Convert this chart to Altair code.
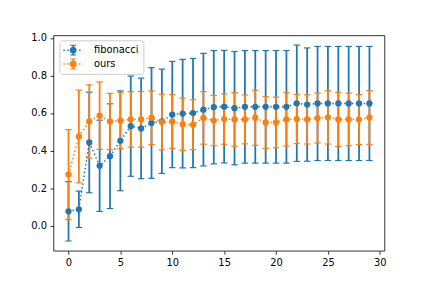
import altair as alt
import pandas as pd

# ---- data ----
x_vals = list(range(30))
series_names = ["fibonacci", "ours"]
series_colors = ["#1f77b4", "#ff7f0e"]

fib_y = [0.076, 0.087, 0.443, 0.319, 0.370, 0.452, 0.530, 0.518, 0.547, 0.556,
         0.592, 0.597, 0.600, 0.618, 0.631, 0.634, 0.626, 0.633, 0.633, 0.633,
         0.633, 0.633, 0.652, 0.645, 0.651, 0.651, 0.651, 0.651, 0.651, 0.651]
fib_err = [0.158, 0.097, 0.268, 0.243, 0.279, 0.266, 0.267, 0.268, 0.295, 0.278,
           0.283, 0.289, 0.291, 0.300, 0.302, 0.300, 0.302, 0.300, 0.300, 0.300,
           0.300, 0.300, 0.310, 0.302, 0.304, 0.304, 0.304, 0.304, 0.304, 0.304]
ours_y = [0.272, 0.475, 0.555, 0.586, 0.555, 0.560, 0.566, 0.566, 0.575, 0.552,
          0.555, 0.540, 0.538, 0.574, 0.560, 0.568, 0.566, 0.566, 0.575, 0.550,
          0.550, 0.566, 0.568, 0.566, 0.573, 0.577, 0.566, 0.566, 0.565, 0.576]
ours_err = [0.240, 0.247, 0.195, 0.180, 0.150, 0.150, 0.148, 0.148, 0.143, 0.148,
            0.143, 0.139, 0.133, 0.140, 0.134, 0.134, 0.143, 0.130, 0.147, 0.138,
            0.135, 0.142, 0.131, 0.131, 0.133, 0.142, 0.144, 0.140, 0.133, 0.143]

x_ticks = [0, 5, 10, 15, 20, 25, 30]
y_ticks = [0.0, 0.2, 0.4, 0.6, 0.8, 1.0]

rows = []
for name, col, ys, es in [("fibonacci", series_colors[0], fib_y, fib_err),
                          ("ours", series_colors[1], ours_y, ours_err)]:
    for xv, yv, ev in zip(x_vals, ys, es):
        rows.append({"series": name, "hex": col, "x": xv, "y": yv,
                     "lo": yv - ev, "hi": yv + ev})
df = pd.DataFrame(rows)

# ---- legend symbol: dotted line + errorbar + marker ----
U = 6.0  # px per path unit (sqrt(144)/2)
def rect(x0, y0, x1, y1):
    return f"M{x0/U:.4f},{y0/U:.4f}H{x1/U:.4f}V{y1/U:.4f}H{x0/U:.4f}Z"
parts = []
pos = -10.0
while pos < 10.0:
    parts.append(rect(pos, -0.75, min(pos + 1.5, 10.0), 0.75))
    pos += 1.5 + 2.475
parts.append(rect(-0.85, -5.0, 0.85, 5.0))
parts.append(rect(-3.0, -5.5, 3.0, -4.5))
parts.append(rect(-3.0, 4.5, 3.0, 5.5))
r = 3.5 / U
parts.append(f"M{-r:.4f},0A{r:.4f},{r:.4f},0,1,1,{r:.4f},0A{r:.4f},{r:.4f},0,1,1,{-r:.4f},0Z")
legend_path = "".join(parts)

legend = alt.Legend(
    title=None, orient="none", legendX=6, legendY=5,
    symbolType=legend_path, symbolSize=144, symbolStrokeWidth=0,
    symbolOpacity=1, symbolOffset=4, labelOffset=15,
    labelFont="DejaVu Sans", labelFontSize=10, labelColor="black",
    padding=4, rowPadding=2, strokeColor="#cccccc",
    fillColor="rgba(255,255,255,0.8)", cornerRadius=3,
)

xscale = alt.Scale(domain=[-1.45, 30.45], nice=False, zero=False)
yscale = alt.Scale(domain=[-0.134, 1.014], nice=False, zero=False)
X = alt.X("x:Q", scale=xscale, axis=alt.Axis(values=x_ticks, format="d"), title=None)

base = alt.Chart(df)
hexcol = alt.Color("hex:N", scale=None)

def err_layers(name):
    b = base.transform_filter(alt.datum.series == name)
    bars = b.mark_rule(strokeWidth=1.8).encode(
        x=X,
        y=alt.Y("lo:Q", scale=yscale, axis=alt.Axis(values=y_ticks, format=".1f"), title=None),
        y2="hi:Q", color=hexcol)
    cap_lo = b.mark_tick(orient="horizontal", size=6.5, thickness=1.2, opacity=1).encode(
        x=X, y=alt.Y("lo:Q", scale=yscale, title=None), color=hexcol)
    cap_hi = b.mark_tick(orient="horizontal", size=6.5, thickness=1.2, opacity=1).encode(
        x=X, y=alt.Y("hi:Q", scale=yscale, title=None), color=hexcol)
    return [bars, cap_lo, cap_hi]

def data_layers(name):
    b = base.transform_filter(alt.datum.series == name)
    line = b.mark_line(strokeDash=[1.5, 2.475], strokeWidth=1.5, strokeCap="butt").encode(
        x=X, y=alt.Y("y:Q", scale=yscale, title=None), color=hexcol)
    pts = b.mark_circle(size=40, opacity=1).encode(
        x=X, y=alt.Y("y:Q", scale=yscale, title=None),
        color=alt.Color("series:N",
                        scale=alt.Scale(domain=series_names, range=series_colors),
                        legend=legend))
    return [line, pts]

layers = err_layers("fibonacci") + err_layers("ours") + data_layers("fibonacci") + data_layers("ours")

chart = alt.layer(*layers).properties(
    width=335, height=218,
    autosize=alt.AutoSizeParams(type="none"),
    padding={"left": 46, "top": 26, "right": 40, "bottom": 36},
    background="white",
).configure_axis(
    labelFont="DejaVu Sans", labelFontSize=10, labelColor="black",
    tickColor="black", tickWidth=0.8, tickSize=3.5, domain=False,
    grid=False, labelPadding=3.5,
).configure_view(stroke="black", strokeWidth=0.8)

chart.save("out.html", embed_options={"renderer": "svg", "actions": False})
